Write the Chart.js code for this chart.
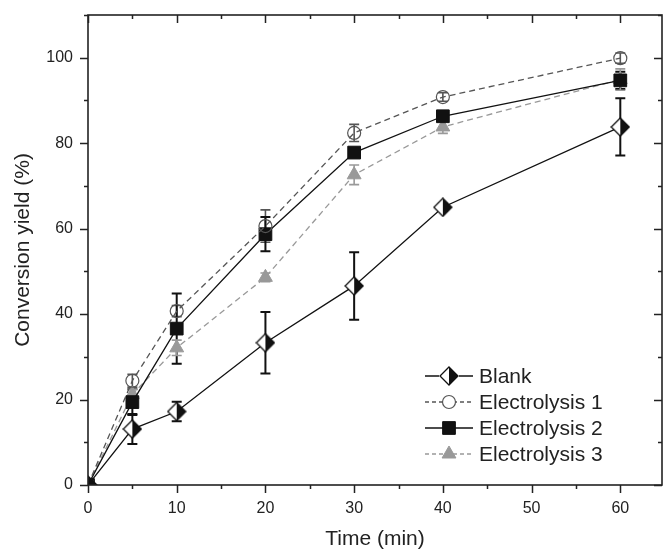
<!DOCTYPE html>
<html><head><meta charset="utf-8">
<script src="https://cdn.jsdelivr.net/npm/chart.js@4/dist/chart.umd.min.js"></script>
<style>html,body{margin:0;padding:0;background:#fff}#wrap{width:664px;height:553px;position:relative}</style>
</head><body><div id="wrap"><canvas id="c" width="664" height="553"></canvas></div>
<script>
// ---- data ----
const times = [0, 5, 10, 20, 30, 40, 60];
const seriesNames = ['Blank', 'Electrolysis 1', 'Electrolysis 2', 'Electrolysis 3'];
const blank    = [0, 13.1, 17.2, 33.3, 46.6, 65.0, 83.8];
const blankErr = [0, 3.5, 2.3, 7.2, 7.9, 0.8, 6.7];
const elec1    = [0, 24.4, 40.7, 60.6, 82.4, 90.8, 99.9];
const elec1Err = [0, 1.5, 1.3, 3.8, 2.0, 1.0, 1.2];
const elec2    = [0, 19.4, 36.6, 58.7, 77.8, 86.3, 94.7];
const elec2Err = [0, 3.0, 8.2, 4.0, 1.0, 1.0, 2.0];
const elec3    = [0, 21.2, 32.1, 48.6, 72.6, 83.8, 94.9];
const elec3Err = [0, 1.2, 1.8, 1.0, 2.3, 1.5, 2.5];
const xTickValues = [0, 10, 20, 30, 40, 50, 60];
const yTickValues = [0, 20, 40, 60, 80, 100];
const xAxisTitle = 'Time (min)';
const yAxisTitle = 'Conversion yield (%)';

const FONT = "'Liberation Sans', Arial, Helvetica, sans-serif";

// half-filled diamond marker
function makeDiamond(size) {
  const c = document.createElement('canvas');
  c.width = size; c.height = size;
  const g = c.getContext('2d');
  const m = size / 2, r = size / 2 - 1;
  g.beginPath(); g.moveTo(m, m - r); g.lineTo(m + r, m); g.lineTo(m, m + r); g.lineTo(m - r, m); g.closePath();
  g.fillStyle = '#fff'; g.fill();
  g.beginPath(); g.moveTo(m, m - r); g.lineTo(m + r, m); g.lineTo(m, m + r); g.closePath();
  g.fillStyle = '#111'; g.fill();
  g.beginPath(); g.moveTo(m, m - r); g.lineTo(m + r, m); g.lineTo(m, m + r); g.lineTo(m - r, m); g.closePath();
  g.strokeStyle = '#111'; g.lineWidth = 1.3; g.stroke();
  return c;
}
const diamondImg = makeDiamond(20);

const pts = arr => times.map((t, i) => ({ x: t, y: arr[i] }));

const datasets = [
  { label: seriesNames[0], data: pts(blank), errors: blankErr, errColor: '#111', errWidth: 2,
    borderColor: '#111', borderWidth: 1.3, pointStyle: diamondImg, pointRadius: 9,
    backgroundColor: '#111' },
  { label: seriesNames[1], data: pts(elec1), errors: elec1Err, errColor: '#555', errWidth: 1.6,
    borderColor: '#555', borderWidth: 1.3, borderDash: [6, 4], pointStyle: 'circle', pointRadius: 6.5,
    pointBackgroundColor: 'rgba(255,255,255,0)', pointBorderColor: '#555', pointBorderWidth: 1.2 },
  { label: seriesNames[2], data: pts(elec2), errors: elec2Err, errColor: '#111', errWidth: 2,
    borderColor: '#111', borderWidth: 1.3, pointStyle: 'rect', pointRadius: 9,
    pointBackgroundColor: '#111', pointBorderColor: '#111', pointBorderWidth: 1 },
  { label: seriesNames[3], data: pts(elec3), errors: elec3Err, errColor: '#999', errWidth: 1.6,
    borderColor: '#999', borderWidth: 1.3, borderDash: [6, 4], pointStyle: 'triangle', pointRadius: 8,
    pointBackgroundColor: '#999', pointBorderColor: '#999', pointBorderWidth: 1 }
];

const errorBars = {
  id: 'errorBars',
  beforeDatasetsDraw(chart) {
    const ctx = chart.ctx, xs = chart.scales.x, ys = chart.scales.y;
    chart.data.datasets.forEach(ds => {
      ctx.save();
      ctx.strokeStyle = ds.errColor; ctx.lineWidth = ds.errWidth;
      ds.data.forEach((p, i) => {
        const e = ds.errors[i];
        if (!e) return;
        const x = xs.getPixelForValue(p.x);
        const y1 = ys.getPixelForValue(p.y + e), y2 = ys.getPixelForValue(p.y - e);
        ctx.beginPath();
        ctx.moveTo(x, y1); ctx.lineTo(x, y2);
        ctx.moveTo(x - 5, y1); ctx.lineTo(x + 5, y1);
        ctx.moveTo(x - 5, y2); ctx.lineTo(x + 5, y2);
        ctx.stroke();
      });
      ctx.restore();
    });
  }
};

const frame = {
  id: 'frame',
  afterDraw(chart) {
    const ctx = chart.ctx, a = chart.chartArea, xs = chart.scales.x, ys = chart.scales.y;
    ctx.save();
    ctx.strokeStyle = '#222'; ctx.lineWidth = 1.6;
    ctx.strokeRect(a.left, a.top, a.right - a.left, a.bottom - a.top);
    ctx.lineWidth = 1.5;
    ctx.beginPath();
    for (let v = 0; v <= xs.max; v += 5) {
      const x = Math.round(xs.getPixelForValue(v)) + 0.5;
      const L = (v % 10 === 0) ? 8 : 4;
      ctx.moveTo(x, a.bottom); ctx.lineTo(x, a.bottom + L);
      ctx.moveTo(x, a.top); ctx.lineTo(x, a.top + L);
    }
    for (let v = 0; v <= ys.max; v += 10) {
      const y = Math.round(ys.getPixelForValue(v)) + 0.5;
      const L = (v % 20 === 0) ? 8 : 4;
      ctx.moveTo(a.left, y); ctx.lineTo(a.left - L, y);
      ctx.moveTo(a.right, y); ctx.lineTo(a.right - L, y);
    }
    ctx.stroke();
    ctx.restore();
  }
};

const legendPlugin = {
  id: 'customLegend',
  afterDraw(chart) {
    const ctx = chart.ctx, a = chart.chartArea;
    const x0 = a.right - 237, y0 = a.bottom - 109, dy = 26;
    chart.data.datasets.forEach((ds, i) => {
      const y = y0 + i * dy;
      ctx.save();
      ctx.strokeStyle = ds.borderColor; ctx.lineWidth = 1.3;
      ctx.setLineDash(ds.borderDash ? [4, 3] : []);
      ctx.beginPath(); ctx.moveTo(x0, y); ctx.lineTo(x0 + 48, y); ctx.stroke();
      ctx.setLineDash([]);
      const mx = x0 + 24;
      if (ds.pointStyle === diamondImg) {
        ctx.fillStyle = '#fff';
        ctx.fillRect(mx - 10, y - 10, 20, 20);
        ctx.drawImage(diamondImg, mx - 10, y - 10);
      } else {
        ctx.fillStyle = ds.pointStyle === 'circle' ? '#fff' : ds.pointBackgroundColor;
        ctx.strokeStyle = ds.pointBorderColor;
        ctx.lineWidth = ds.pointBorderWidth;
        Chart.helpers.drawPoint(ctx, { pointStyle: ds.pointStyle, radius: ds.pointRadius, rotation: 0, borderWidth: ds.pointBorderWidth }, mx, y);
      }
      ctx.fillStyle = '#222';
      ctx.font = '21px ' + FONT;
      ctx.textBaseline = 'middle';
      ctx.textAlign = 'left';
      ctx.fillText(ds.label, x0 + 54, y + 1);
      ctx.restore();
    });
  }
};

new Chart(document.getElementById('c'), {
  type: 'line',
  data: { datasets },
  plugins: [errorBars, frame, legendPlugin],
  options: {
    responsive: false, animation: false, devicePixelRatio: 1,
    layout: { autoPadding: false, padding: { top: 15, right: 2, left: 0, bottom: 0 } },
    plugins: { legend: { display: false }, tooltip: { enabled: false } },
    elements: { line: { tension: 0 } },
    scales: {
      x: {
        type: 'linear', min: 0, max: 64.7,
        afterBuildTicks: s => { s.ticks = xTickValues.map(v => ({ value: v })); },
        afterFit: s => { s.height = 68; s.paddingLeft = 0; s.paddingRight = 0; },
        grid: { drawOnChartArea: false, drawTicks: true, tickLength: 8, color: 'rgba(0,0,0,0)' },
        border: { display: false },
        ticks: { color: '#222', font: { family: FONT, size: 16 }, padding: 6, maxRotation: 0 },
        title: { display: true, text: xAxisTitle, color: '#222', font: { family: FONT, size: 21 }, padding: { top: 0, bottom: 1 } }
      },
      y: {
        type: 'linear', min: 0, max: 110,
        afterBuildTicks: s => { s.ticks = yTickValues.map(v => ({ value: v })); },
        afterFit: s => { s.width = 88; s.paddingTop = 0; s.paddingBottom = 0; },
        grid: { drawOnChartArea: false, drawTicks: true, tickLength: 8, color: 'rgba(0,0,0,0)' },
        border: { display: false },
        ticks: { color: '#222', font: { family: FONT, size: 16 }, padding: 7 },
        title: { display: true, text: yAxisTitle, color: '#222', font: { family: FONT, size: 21 }, padding: { top: 11, bottom: 0 } }
      }
    }
  }
});
</script></body></html>
